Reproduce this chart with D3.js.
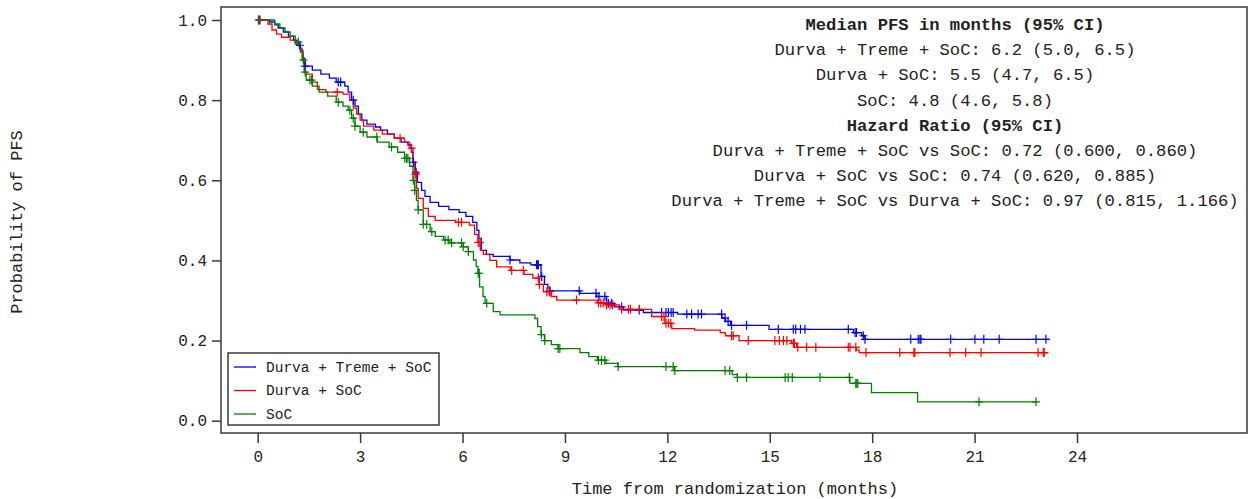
<!DOCTYPE html>
<html>
<head>
<meta charset="utf-8">
<script src="https://cdn.jsdelivr.net/npm/d3@7"></script>
<style>
  body { margin: 0; background: #fff; }
  text { font-family: "Liberation Mono", "DejaVu Sans Mono", monospace; fill: #222; }
</style>
</head>
<body>
<div id="main"></div>
<script>
// arms and their colours
const arms = ['Durva + Treme + SoC', 'Durva + SoC', 'SoC'];
const armColors = ['#0000ff', '#ff0000', '#008000'];

// Kaplan-Meier steps: [time in months, survival after the step]
const blueSteps = [[0,1.0],[0.35,0.995],[0.5,0.988],[0.6,0.98],[0.75,0.97],[0.9,0.96],[1.05,0.95],[1.15,0.937],
  [1.25,0.925],[1.32,0.905],[1.38,0.885],[1.6,0.875],[1.85,0.865],[2.1,0.855],[2.3,0.845],[2.55,0.835],[2.65,0.82],
  [2.75,0.8],[2.85,0.785],[2.95,0.765],[3.05,0.75],[3.2,0.74],[3.45,0.733],[3.6,0.725],[3.8,0.715],[4.0,0.705],
  [4.2,0.695],[4.4,0.688],[4.5,0.67],[4.55,0.645],[4.62,0.62],[4.68,0.595],[4.8,0.575],[4.9,0.56],[5.05,0.545],
  [5.3,0.535],[5.6,0.527],[5.9,0.52],[6.1,0.51],[6.3,0.495],[6.42,0.475],[6.48,0.455],[6.55,0.425],[6.7,0.415],
  [6.9,0.41],[7.39,0.401],[7.68,0.394],[8.0,0.389],[8.3,0.36],[8.4,0.34],[8.5,0.331],[8.56,0.324],[9.44,0.318],
  [9.93,0.31],[10.22,0.293],[10.45,0.284],[10.71,0.276],[11.3,0.27],[12.3,0.266],[13.6,0.256],[13.7,0.248],
  [13.85,0.238],[14.98,0.228],[17.45,0.22],[17.69,0.212],[17.79,0.203]];
const blueEnd = 23.2;
const blueCens = [0.05,1.24,1.39,2.36,2.43,2.8,4.56,4.64,7.39,8.17,8.2,8.22,8.32,8.56,9.42,9.91,10.0,10.17,10.27,
  10.37,10.66,11.18,11.83,11.96,12.03,12.11,12.17,12.57,12.71,12.9,13.0,13.59,13.69,13.78,13.88,14.32,15.25,15.69,
  15.76,15.9,16.03,17.3,17.5,17.54,17.74,17.79,19.13,19.35,19.4,19.43,20.3,21.01,21.27,21.72,22.8,23.09];

const redSteps = [[0,1.0],[0.3,0.99],[0.42,0.975],[0.55,0.965],[0.7,0.957],[0.95,0.95],[1.1,0.94],[1.25,0.92],
  [1.33,0.895],[1.4,0.865],[1.6,0.845],[1.75,0.826],[2.0,0.82],[2.5,0.815],[2.7,0.8],[2.8,0.78],[2.9,0.765],
  [3.0,0.75],[3.1,0.735],[3.4,0.725],[3.65,0.715],[4.0,0.705],[4.3,0.695],[4.45,0.68],[4.55,0.645],[4.6,0.615],
  [4.65,0.58],[4.7,0.555],[4.85,0.53],[5.0,0.51],[5.2,0.5],[5.8,0.495],[6.2,0.488],[6.35,0.465],[6.45,0.445],
  [6.52,0.425],[6.61,0.415],[6.8,0.4],[7.0,0.384],[7.4,0.375],[7.8,0.365],[8.06,0.356],[8.25,0.34],[8.37,0.322],
  [8.6,0.31],[8.76,0.301],[9.95,0.294],[10.2,0.289],[10.6,0.278],[11.54,0.26],[11.93,0.243],[12.13,0.23],
  [12.8,0.226],[13.55,0.22],[13.7,0.212],[14.1,0.2],[15.64,0.193],[15.79,0.183],[17.54,0.176],[17.62,0.17]];
const redEnd = 23.16;
const redCens = [0.07,2.33,4.17,4.51,4.61,4.64,5.88,5.97,6.46,6.51,7.44,7.78,8.22,8.25,8.47,8.54,8.56,9.34,9.98,
  10.05,10.12,10.22,10.32,10.4,10.66,10.86,10.92,11.18,11.83,11.9,11.96,12.03,12.1,13.88,13.93,14.37,15.15,15.28,
  15.4,15.5,15.69,15.72,15.82,16.08,16.35,17.3,17.35,17.52,17.82,18.81,19.22,19.25,20.28,20.74,21.19,22.86,23.01,23.04];

const greenSteps = [[0,1.0],[0.5,0.99],[0.65,0.98],[0.8,0.97],[0.95,0.96],[1.1,0.945],[1.22,0.93],[1.3,0.9],
  [1.36,0.87],[1.42,0.85],[1.6,0.835],[1.8,0.82],[2.05,0.81],[2.3,0.795],[2.5,0.785],[2.65,0.775],[2.75,0.755],
  [2.85,0.735],[3.0,0.72],[3.2,0.708],[3.5,0.695],[3.85,0.683],[4.1,0.67],[4.3,0.655],[4.45,0.635],[4.55,0.6],
  [4.6,0.575],[4.65,0.55],[4.7,0.526],[4.85,0.49],[5.05,0.472],[5.2,0.46],[5.44,0.451],[5.63,0.444],[6.02,0.434],
  [6.17,0.422],[6.32,0.401],[6.4,0.385],[6.45,0.368],[6.5,0.334],[6.6,0.31],[6.66,0.293],[6.9,0.272],[7.1,0.264],
  [8.12,0.255],[8.2,0.235],[8.3,0.215],[8.4,0.2],[8.6,0.19],[8.8,0.18],[9.44,0.17],[9.7,0.16],[9.95,0.151],
  [10.2,0.143],[10.55,0.135],[12.2,0.125],[13.9,0.115],[14.05,0.108],[17.35,0.093],[17.98,0.07],[19.33,0.047]];
const greenEnd = 22.82;
const greenCens = [0.02,1.19,1.34,1.39,1.53,1.58,2.36,2.7,2.8,2.85,3.09,3.49,3.92,4.31,4.36,4.4,4.56,4.6,4.7,4.85,
  4.95,5.1,5.49,5.58,5.68,5.97,6.02,6.17,6.46,6.49,6.71,8.31,8.41,8.8,8.85,9.98,10.07,10.17,10.56,11.96,12.17,12.22,
  13.69,13.83,14.05,14.32,15.45,15.54,15.66,16.47,17.33,17.52,17.55,17.58,21.13,22.8];

const allSteps = [blueSteps, redSteps, greenSteps];
const allEnds = [blueEnd, redEnd, greenEnd];
const allCens = [blueCens, redCens, greenCens];

// axis ticks
const xTicks = [0, 3, 6, 9, 12, 15, 18, 21, 24];
const yTicks = [0.0, 0.2, 0.4, 0.6, 0.8, 1.0];

// annotation lines [text, bold]
const notes = [
  ['Median PFS in months (95% CI)', true],
  ['Durva + Treme + SoC: 6.2 (5.0, 6.5)', false],
  ['Durva + SoC: 5.5 (4.7, 6.5)', false],
  ['SoC: 4.8 (4.6, 5.8)', false],
  ['Hazard Ratio (95% CI)', true],
  ['Durva + Treme + SoC vs SoC: 0.72 (0.600, 0.860)', false],
  ['Durva + SoC vs SoC: 0.74 (0.620, 0.885)', false],
  ['Durva + Treme + SoC vs Durva + SoC: 0.97 (0.815, 1.166)', false]
];

const width = 1249;
const height = 499;
const frame = { left: 221, top: 7, right: 1247, bottom: 433 };

const svg = d3.select('#main')
  .append('svg')
  .attr('width', width)
  .attr('height', height);

const x = d3.scaleLinear().domain([0, 24]).range([257.7, 1077]);
const y = d3.scaleLinear().domain([0, 1]).range([420.7, 20]);

// frame
svg.append('rect')
  .attr('x', frame.left)
  .attr('y', frame.top)
  .attr('width', frame.right - frame.left)
  .attr('height', frame.bottom - frame.top)
  .attr('fill', 'none')
  .attr('stroke', '#3a3a3a')
  .attr('stroke-width', 1.5);

// x axis
const xAxis = svg.append('g')
  .attr('transform', `translate(0,${frame.bottom})`)
  .call(d3.axisBottom(x).tickValues(xTicks).tickSize(10).tickPadding(8).tickFormat(d3.format('d')));
xAxis.select('.domain').remove();
xAxis.selectAll('.tick line').attr('stroke', '#3a3a3a').attr('stroke-width', 1.5);
xAxis.selectAll('.tick text').style('font-size', '16px').attr('fill', '#222')
  .style('font-family', '"Liberation Mono", monospace');

// y axis
const yAxis = svg.append('g')
  .attr('transform', `translate(${frame.left},0)`)
  .call(d3.axisLeft(y).tickValues(yTicks).tickSize(9).tickPadding(5).tickFormat(d3.format('.1f')));
yAxis.select('.domain').remove();
yAxis.selectAll('.tick line').attr('stroke', '#3a3a3a').attr('stroke-width', 1.5);
yAxis.selectAll('.tick text').style('font-size', '16px').attr('fill', '#222')
  .style('font-family', '"Liberation Mono", monospace');

// axis titles
svg.append('text')
  .attr('x', 735)
  .attr('y', 494)
  .attr('text-anchor', 'middle')
  .style('font-size', '17px')
  .text('Time from randomization (months)');

svg.append('text')
  .attr('transform', `translate(22,${(frame.top + frame.bottom) / 2 + 2}) rotate(-90)`)
  .attr('text-anchor', 'middle')
  .style('font-size', '17px')
  .text('Probability of PFS');

// survival curves
const line = d3.line()
  .x(d => x(d[0]))
  .y(d => y(d[1]))
  .curve(d3.curveStepAfter);

const bis = d3.bisector(d => d[0]).right;
function survAt(steps, t) {
  return steps[Math.max(0, bis(steps, t) - 1)][1];
}

const curves = svg.append('g').classed('curves', true);
allSteps.forEach((steps, i) => {
  const pts = steps.concat([[allEnds[i], steps[steps.length - 1][1]]]);
  curves.append('path')
    .attr('d', line(pts))
    .attr('fill', 'none')
    .attr('stroke', armColors[i])
    .attr('stroke-width', 1.3);
});

// censor marks
allCens.forEach((cens, i) => {
  curves.append('g')
    .selectAll('path')
    .data(cens)
    .enter()
    .append('path')
    .attr('d', t => {
      const cx = x(t);
      const cy = y(survAt(allSteps[i], t));
      return `M${cx},${cy - 4.5}V${cy + 4.5}M${cx - 4},${cy}H${cx + 4}`;
    })
    .attr('stroke', armColors[i])
    .attr('stroke-width', 1.2)
    .attr('fill', 'none');
});

// annotation block
const noteX = 955;
svg.append('g')
  .selectAll('text')
  .data(notes)
  .enter()
  .append('text')
  .attr('x', noteX)
  .attr('y', (d, i) => 30 + i * 25.2)
  .attr('text-anchor', 'middle')
  .style('font-size', '17.2px')
  .style('font-weight', d => d[1] ? 'bold' : 'normal')
  .text(d => d[0]);

// legend
const legend = svg.append('g').classed('legend', true);
legend.append('rect')
  .attr('x', 228)
  .attr('y', 353)
  .attr('width', 211)
  .attr('height', 72)
  .attr('fill', '#fff')
  .attr('stroke', '#3a3a3a')
  .attr('stroke-width', 1.5);
arms.forEach((name, i) => {
  const ly = 367 + i * 23.5;
  legend.append('line')
    .attr('x1', 234).attr('x2', 256)
    .attr('y1', ly).attr('y2', ly)
    .attr('stroke', armColors[i])
    .attr('stroke-width', 1.3);
  legend.append('text')
    .attr('x', 266)
    .attr('y', ly + 4.5)
    .style('font-size', '14.5px')
    .text(name);
});
</script>
</body>
</html>
